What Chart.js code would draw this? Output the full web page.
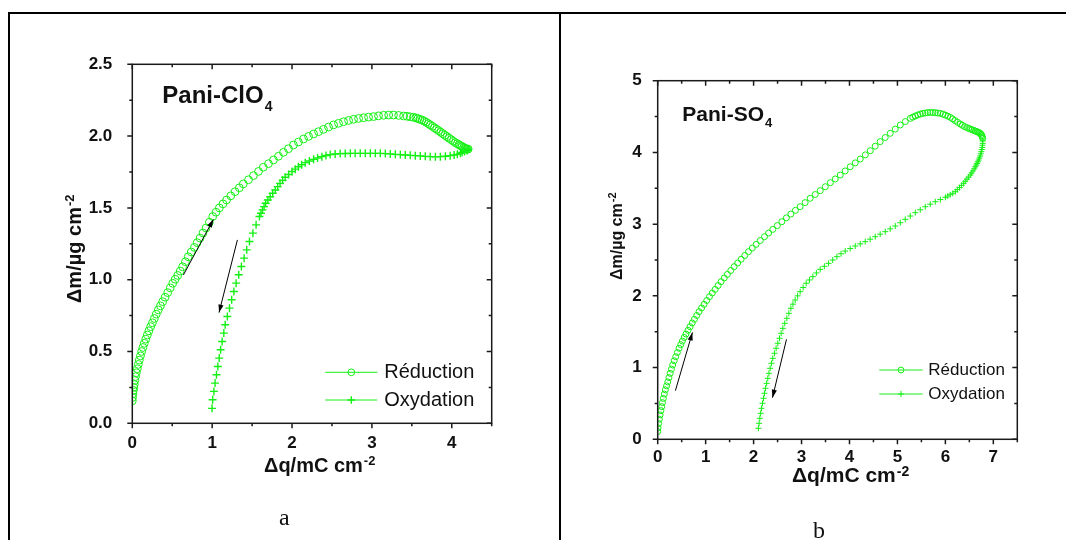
<!DOCTYPE html>
<html>
<head>
<meta charset="utf-8">
<script src="https://cdn.jsdelivr.net/npm/chart.js@4.4.1/dist/chart.umd.min.js"></script>
<style>
  html, body { margin: 0; padding: 0; background: #fff; overflow: hidden; }
  body { width: 1066px; height: 540px; position: relative; }
  .rule { position: absolute; background: #000; z-index: 2; }
  canvas { position: absolute; }
  .cap { position: absolute; font-family: "Liberation Serif", "Times New Roman", serif; font-size: 24px; line-height: 24px; color: #111; }
</style>
</head>
<body>
<div class="rule" style="left:8px;top:12px;width:1058px;height:2px"></div>
<div class="rule" style="left:8px;top:12px;width:2px;height:528px"></div>
<div class="rule" style="left:559px;top:12px;width:2px;height:528px"></div>
<canvas id="chart-a" width="549" height="526" style="left:10px;top:14px"></canvas>
<canvas id="chart-b" width="505" height="526" style="left:561px;top:14px"></canvas>
<div class="cap" style="left:279px;top:505px">a</div>
<div class="cap" style="left:813px;top:518px">b</div>
<script>
// panel a : Pani-ClO4
var xTicksA = [0, 1, 2, 3, 4];
var xLabelsA = ['0', '1', '2', '3', '4'];
var yTicksA = [0, 0.5, 1, 1.5, 2, 2.5];
var yLabelsA = ['0.0', '0.5', '1.0', '1.5', '2.0', '2.5'];
var reductionA = [
  [0,0.156],[0.003,0.18],[0.008,0.205],[0.013,0.23],[0.019,0.25],[0.025,0.27],[0.032,0.298],[0.04,0.325],
  [0.05,0.352],[0.063,0.38],[0.075,0.41],[0.088,0.44],[0.102,0.47],[0.117,0.5],[0.133,0.528],[0.15,0.557],
  [0.168,0.586],[0.188,0.615],[0.208,0.644],[0.23,0.673],[0.252,0.7],[0.276,0.73],[0.3,0.76],[0.326,0.79],
  [0.352,0.818],[0.38,0.847],[0.41,0.878],[0.443,0.91],[0.475,0.943],[0.506,0.975],[0.537,1.003],[0.568,1.03],
  [0.6,1.06],[0.63,1.09],[0.665,1.125],[0.7,1.16],[0.738,1.193],[0.777,1.225],[0.812,1.258],[0.848,1.29],
  [0.885,1.325],[0.923,1.36],[0.965,1.4],[1.007,1.44],[1.048,1.47],[1.09,1.5],[1.135,1.528],[1.18,1.555],
  [1.233,1.584],[1.287,1.613],[1.34,1.64],[1.39,1.667],[1.455,1.696],[1.517,1.725],[1.58,1.754],[1.64,1.783],
  [1.705,1.808],[1.768,1.834],[1.83,1.86],[1.893,1.887],[1.955,1.912],[2.018,1.938],[2.08,1.959],[2.144,1.98],
  [2.207,1.998],[2.27,2.015],[2.332,2.031],[2.394,2.047],[2.457,2.063],[2.52,2.078],[2.582,2.089],[2.645,2.1],
  [2.708,2.109],[2.77,2.117],[2.833,2.123],[2.896,2.128],[2.958,2.132],[3.02,2.136],[3.083,2.141],[3.147,2.145],
  [3.21,2.147],[3.27,2.147],[3.335,2.144],[3.397,2.14],[3.44,2.138],[3.48,2.134],[3.52,2.131],[3.55,2.127],
  [3.575,2.122],[3.6,2.117],[3.627,2.112],[3.655,2.104],[3.68,2.096],[3.705,2.087],[3.73,2.078],[3.757,2.068],
  [3.783,2.058],[3.81,2.048],[3.836,2.038],[3.862,2.027],[3.888,2.017],[3.915,2.006],[3.94,1.996],[3.967,1.985],
  [3.993,1.975],[4.02,1.964],[4.045,1.954],[4.07,1.947],[4.09,1.94],[4.11,1.933],[4.13,1.927],[4.15,1.921],
  [4.165,1.916],[4.18,1.911],[4.19,1.908],[4.205,1.91]
];
var oxydationA = [
  [4.205,1.908],[4.19,1.9],[4.16,1.893],[4.13,1.887],[4.108,1.88],[4.07,1.873],[4.03,1.868],[3.98,1.864],
  [3.92,1.86],[3.857,1.857],[3.795,1.856],[3.73,1.857],[3.668,1.859],[3.606,1.862],[3.543,1.864],[3.48,1.866],
  [3.418,1.868],[3.356,1.871],[3.293,1.873],[3.23,1.876],[3.168,1.878],[3.105,1.88],[3.043,1.88],[2.98,1.88],
  [2.917,1.88],[2.854,1.88],[2.79,1.88],[2.73,1.88],[2.666,1.879],[2.603,1.878],[2.54,1.875],[2.478,1.871],
  [2.425,1.865],[2.374,1.857],[2.32,1.848],[2.27,1.838],[2.217,1.827],[2.165,1.815],[2.12,1.8],[2.08,1.787],
  [2.04,1.77],[2.0,1.753],[1.957,1.733],[1.914,1.713],[1.882,1.692],[1.85,1.671],[1.82,1.648],[1.79,1.625],
  [1.758,1.602],[1.726,1.578],[1.697,1.555],[1.67,1.532],[1.65,1.509],[1.63,1.486],[1.611,1.463],[1.592,1.44],
  [1.55,1.382],[1.51,1.324],[1.467,1.266],[1.433,1.208],[1.4,1.15],[1.366,1.092],[1.333,1.034],[1.3,0.976],
  [1.272,0.918],[1.244,0.86],[1.217,0.802],[1.19,0.744],[1.163,0.686],[1.146,0.628],[1.125,0.57],[1.106,0.512],
  [1.088,0.454],[1.071,0.396],[1.054,0.338],[1.036,0.28],[1.022,0.222],[1.006,0.164],[0.999,0.104]
];
// arrows: [x from, y from, x to, y to]
var arrowsA = [[0.64, 1.033, 1.015, 1.42], [1.316, 1.277, 1.086, 0.771]];

// panel b : Pani-SO4
var xTicksB = [0, 1, 2, 3, 4, 5, 6, 7];
var xLabelsB = ['0', '1', '2', '3', '4', '5', '6', '7'];
var yTicksB = [0, 1, 2, 3, 4, 5];
var yLabelsB = ['0', '1', '2', '3', '4', '5'];
var reductionB = [
  [0,0.107],[0.008,0.16],[0.02,0.22],[0.034,0.28],[0.05,0.34],[0.067,0.4],[0.084,0.455],[0.1,0.512],
  [0.118,0.57],[0.138,0.63],[0.16,0.69],[0.185,0.745],[0.21,0.8],[0.235,0.86],[0.26,0.92],[0.286,0.978],
  [0.313,1.036],[0.344,1.094],[0.376,1.152],[0.41,1.21],[0.445,1.27],[0.48,1.32],[0.515,1.37],[0.552,1.42],
  [0.59,1.468],[0.632,1.52],[0.675,1.57],[0.72,1.622],[0.765,1.673],[0.814,1.727],[0.863,1.78],[0.915,1.831],
  [0.967,1.882],[1.023,1.936],[1.08,1.989],[1.138,2.04],[1.197,2.09],[1.26,2.144],[1.322,2.198],[1.388,2.25],
  [1.454,2.3],[1.524,2.354],[1.594,2.407],[1.667,2.458],[1.74,2.51],[1.816,2.563],[1.893,2.616],[1.973,2.667],
  [2.053,2.718],[2.14,2.772],[2.227,2.825],[2.313,2.876],[2.4,2.927],[2.495,2.98],[2.59,3.034],[2.683,3.088],
  [2.777,3.141],[2.873,3.192],[2.97,3.243],[3.075,3.3],[3.18,3.36],[3.285,3.413],[3.39,3.467],[3.495,3.522],
  [3.6,3.578],[3.703,3.63],[3.807,3.685],[3.91,3.742],[4.015,3.8],[4.12,3.854],[4.224,3.908],[4.33,3.966],
  [4.433,4.024],[4.537,4.087],[4.64,4.15],[4.745,4.208],[4.85,4.266],[4.955,4.325],[5.06,4.382],[5.165,4.43],
  [5.268,4.475],[5.32,4.492],[5.373,4.508],[5.425,4.522],[5.477,4.535],[5.53,4.544],[5.58,4.55],[5.63,4.555],
  [5.685,4.558],[5.74,4.556],[5.79,4.553],[5.84,4.55],[5.894,4.545],[5.95,4.533],[6.0,4.52],[6.05,4.505],
  [6.103,4.489],[6.15,4.468],[6.2,4.445],[6.255,4.42],[6.31,4.396],[6.355,4.378],[6.4,4.36],[6.445,4.347],
  [6.486,4.335],[6.525,4.325],[6.56,4.315],[6.595,4.306],[6.625,4.298],[6.655,4.29],[6.68,4.282],[6.705,4.274],
  [6.73,4.266],[6.748,4.25],[6.76,4.235],[6.77,4.215],[6.778,4.196]
];
var oxydationB = [
  [6.778,4.16],[6.778,4.126],[6.775,4.1],[6.77,4.07],[6.76,4.04],[6.75,4.01],[6.738,3.98],[6.725,3.95],
  [6.71,3.922],[6.694,3.894],[6.677,3.87],[6.66,3.846],[6.643,3.823],[6.625,3.8],[6.6,3.771],[6.575,3.742],
  [6.548,3.713],[6.52,3.685],[6.485,3.656],[6.45,3.627],[6.415,3.598],[6.38,3.569],[6.338,3.54],[6.295,3.51],
  [6.25,3.481],[6.207,3.453],[6.155,3.43],[6.1,3.41],[6.05,3.392],[6.0,3.374],[5.895,3.343],[5.79,3.313],
  [5.685,3.278],[5.581,3.243],[5.476,3.2],[5.372,3.16],[5.268,3.113],[5.163,3.067],[5.06,3.02],[4.955,2.974],
  [4.85,2.934],[4.746,2.895],[4.64,2.86],[4.537,2.825],[4.43,2.79],[4.328,2.756],[4.224,2.725],[4.12,2.695],
  [4.015,2.66],[3.911,2.625],[3.824,2.587],[3.737,2.546],[3.65,2.5],[3.563,2.453],[3.476,2.412],[3.389,2.37],
  [3.31,2.32],[3.236,2.268],[3.165,2.222],[3.097,2.175],[3.034,2.117],[2.971,2.059],[2.918,2.0],[2.867,1.942],
  [2.82,1.884],[2.777,1.826],[2.735,1.757],[2.693,1.687],[2.65,1.617],[2.61,1.547],[2.575,1.478],[2.54,1.408],
  [2.505,1.339],[2.47,1.269],[2.435,1.199],[2.4,1.129],[2.372,1.06],[2.345,0.99],[2.32,0.92],[2.296,0.85],
  [2.272,0.78],[2.248,0.711],[2.227,0.642],[2.206,0.572],[2.185,0.502],[2.164,0.432],[2.147,0.362],[2.13,0.293],
  [2.115,0.223],[2.1,0.153]
];
var arrowsB = [[0.369, 0.678, 0.724, 1.49], [2.686, 1.394, 2.394, 0.581]];

var GREEN = '#14f014';
var INK = '#1a1a1a';
var SANS = '"Liberation Sans", Arial, Helvetica, sans-serif';

// extra drawing for each panel, keyed by canvas id (offsets are pixels from the plot frame)
var decor = {
  'chart-a': {
    title: 'Pani-ClO', titleSub: '4', titleFont: 'bold 24px ' + SANS, subFont: 'bold 14px ' + SANS,
    titleAt: [30, 38.4], subDrop: 8,
    xTitleAt: [131.7, 48.4], yTitleAt: [-51, -120.3],
    axisFont: 'bold 20px ' + SANS, supFont: 'bold 13px ' + SANS, supRise: 7,
    xMinor: 0.5, yMinor: 0.25,
    legendLine: [-166.4, -114.4], legendText: -107.4, legendRows: [-51, -23.3],
    legendFont: '20px ' + SANS, legendR: [3.4, 3.8],
    arrows: arrowsA
  },
  'chart-b': {
    title: 'Pani-SO', titleSub: '4', titleFont: 'bold 21px ' + SANS, subFont: 'bold 13px ' + SANS,
    titleAt: [24.6, 40.3], subDrop: 6,
    xTitleAt: [134.3, 42.4], yTitleAt: [-35.7, -159.3],
    axisFont: 'bold 21px ' + SANS, supFont: 'bold 14px ' + SANS, supRise: 6,
    yAxisFont: 'bold 16px ' + SANS, ySupFont: 'bold 11px ' + SANS,
    xMinor: 0.5, yMinor: 0.5,
    legendLine: [-138, -94.6], legendText: -89, legendRows: [-69.3, -45.3],
    legendFont: '17px ' + SANS, legendR: [2.9, 3.1],
    arrows: arrowsB
  }
};

function supText(ctx, x, y, main, sup, font, supFont, rise) {
  ctx.font = font;
  ctx.fillText(main, x, y);
  var w = ctx.measureText(main).width;
  ctx.font = supFont;
  ctx.fillText(sup, x + w + 1, y - rise);
}

function marker(ctx, style, x, y, r) {
  ctx.beginPath();
  if (style === 'circle') {
    ctx.arc(x, y, r, 0, Math.PI * 2);
  } else {
    ctx.moveTo(x - r, y); ctx.lineTo(x + r, y);
    ctx.moveTo(x, y - r); ctx.lineTo(x, y + r);
  }
  ctx.stroke();
}

var panelDecor = {
  id: 'panelDecor',
  afterDatasetsDraw: function (chart) {
    var d = decor[chart.canvas.id];
    var ctx = chart.ctx, ca = chart.chartArea;
    var xs = chart.scales.x, ys = chart.scales.y;
    ctx.save();

    // frame + ticks (out on left/bottom, in on top/right)
    ctx.strokeStyle = INK;
    ctx.lineWidth = 1.5;
    ctx.strokeRect(ca.left, ca.top, ca.right - ca.left, ca.bottom - ca.top);
    ctx.beginPath();
    xs.ticks.forEach(function (t) {
      var p = xs.getPixelForValue(t.value);
      ctx.moveTo(p, ca.bottom); ctx.lineTo(p, ca.bottom + 5);
      ctx.moveTo(p, ca.top); ctx.lineTo(p, ca.top + 5);
    });
    ys.ticks.forEach(function (t) {
      var p = ys.getPixelForValue(t.value);
      ctx.moveTo(ca.left - 5, p); ctx.lineTo(ca.left, p);
      ctx.moveTo(ca.right - 5, p); ctx.lineTo(ca.right, p);
    });
    for (var v = xs.min + d.xMinor / 2; v < xs.max; v += d.xMinor) {
      var p = xs.getPixelForValue(v + d.xMinor / 2);
      ctx.moveTo(p, ca.bottom); ctx.lineTo(p, ca.bottom + 3);
      ctx.moveTo(p, ca.top); ctx.lineTo(p, ca.top + 3);
    }
    for (var w = ys.min + d.yMinor; w < ys.max; w += 2 * d.yMinor) {
      var q = ys.getPixelForValue(w);
      ctx.moveTo(ca.left - 3, q); ctx.lineTo(ca.left, q);
      ctx.moveTo(ca.right - 3, q); ctx.lineTo(ca.right, q);
    }
    ctx.stroke();

    // direction arrows
    ctx.strokeStyle = '#000';
    ctx.fillStyle = '#000';
    ctx.lineWidth = 1;
    d.arrows.forEach(function (a) {
      var x0 = xs.getPixelForValue(a[0]), y0 = ys.getPixelForValue(a[1]);
      var x1 = xs.getPixelForValue(a[2]), y1 = ys.getPixelForValue(a[3]);
      var ang = Math.atan2(y1 - y0, x1 - x0);
      ctx.beginPath();
      ctx.moveTo(x0, y0); ctx.lineTo(x1, y1);
      ctx.stroke();
      ctx.beginPath();
      ctx.moveTo(x1, y1);
      ctx.lineTo(x1 - 8 * Math.cos(ang) + 2.6 * Math.sin(ang), y1 - 8 * Math.sin(ang) - 2.6 * Math.cos(ang));
      ctx.lineTo(x1 - 8 * Math.cos(ang) - 2.6 * Math.sin(ang), y1 - 8 * Math.sin(ang) + 2.6 * Math.cos(ang));
      ctx.closePath();
      ctx.fill();
    });

    // panel label with subscript
    ctx.fillStyle = '#111';
    ctx.textAlign = 'left';
    ctx.textBaseline = 'alphabetic';
    ctx.font = d.titleFont;
    var tx = ca.left + d.titleAt[0], ty = ca.top + d.titleAt[1];
    ctx.fillText(d.title, tx, ty);
    var tw = ctx.measureText(d.title).width;
    ctx.font = d.subFont;
    ctx.fillText(d.titleSub, tx + tw + 1, ty + d.subDrop);

    // axis titles
    supText(ctx, ca.left + d.xTitleAt[0], ca.bottom + d.xTitleAt[1], '\u0394q/mC cm', '-2',
      d.axisFont, d.supFont, d.supRise);
    ctx.save();
    ctx.translate(ca.left + d.yTitleAt[0], ca.bottom + d.yTitleAt[1]);
    ctx.rotate(-Math.PI / 2);
    supText(ctx, 0, 0, '\u0394m/\u00b5g cm', '-2', d.yAxisFont || d.axisFont, d.ySupFont || d.supFont, d.supRise);
    ctx.restore();

    // legend: line - marker - line, then label
    chart.data.datasets.forEach(function (ds, i) {
      var ly = ca.bottom + d.legendRows[i];
      var l0 = ca.right + d.legendLine[0], l1 = ca.right + d.legendLine[1];
      ctx.strokeStyle = ds.borderColor;
      ctx.lineWidth = 1;
      ctx.beginPath();
      ctx.moveTo(l0, ly); ctx.lineTo(l1, ly);
      ctx.stroke();
      ctx.lineWidth = ds.pointBorderWidth;
      marker(ctx, ds.pointStyle, (l0 + l1) / 2, ly, d.legendR[i]);
      ctx.fillStyle = '#111';
      ctx.font = d.legendFont;
      ctx.textBaseline = 'middle';
      ctx.fillText(ds.label, ca.right + d.legendText, ly);
      ctx.textBaseline = 'alphabetic';
    });
    ctx.restore();
  }
};

function series(label, pts, style, r, bw) {
  return {
    label: label,
    data: pts.map(function (p) { return { x: p[0], y: p[1] }; }),
    showLine: false,
    borderColor: GREEN,
    borderWidth: 1,
    pointStyle: style,
    pointRadius: r,
    pointHoverRadius: r,
    pointBorderColor: GREEN,
    pointBackgroundColor: 'rgba(0,0,0,0)',
    pointBorderWidth: bw
  };
}

function makePanel(id, cfg) {
  return new Chart(document.getElementById(id), {
    type: 'scatter',
    data: { datasets: cfg.datasets },
    options: {
      responsive: false,
      animation: false,
      events: [],
      layout: { padding: cfg.padding },
      scales: {
        x: {
          type: 'linear', min: cfg.xMin, max: cfg.xMax,
          grid: { display: false }, border: { display: false },
          afterBuildTicks: function (s) { s.ticks = cfg.xTicks.map(function (v) { return { value: v }; }); },
          afterFit: function (s) { s.height = 40; },
          ticks: {
            autoSkip: false, maxRotation: 0, padding: cfg.xPad, color: '#111',
            font: { family: SANS, size: 17, weight: 'bold' },
            callback: function (v, i) { return cfg.xLabels[i]; }
          }
        },
        y: {
          type: 'linear', min: cfg.yMin, max: cfg.yMax,
          grid: { display: false }, border: { display: false },
          afterBuildTicks: function (s) { s.ticks = cfg.yTicks.map(function (v) { return { value: v }; }); },
          afterFit: function (s) { s.width = 50; },
          ticks: {
            autoSkip: false, padding: cfg.yPad, color: '#111',
            font: { family: SANS, size: 17, weight: 'bold' },
            callback: function (v, i) { return cfg.yLabels[i]; }
          }
        }
      },
      plugins: { legend: { display: false }, tooltip: { enabled: false } }
    },
    plugins: [panelDecor]
  });
}

makePanel('chart-a', {
  datasets: [
    series('R\u00e9duction', reductionA, 'circle', 3.9, 1),
    series('Oxydation', oxydationA, 'cross', 4, 1.4)
  ],
  padding: { left: 72.3, top: 50.3, right: 67.3, bottom: 76.7 },
  xMin: 0, xMax: 4.5, yMin: 0, yMax: 2.5,
  xTicks: xTicksA, xLabels: xLabelsA, yTicks: yTicksA, yLabels: yLabelsA,
  xPad: 2, yPad: 12
});

makePanel('chart-b', {
  datasets: [
    series('R\u00e9duction', reductionB, 'circle', 3, 1),
    series('Oxydation', oxydationB, 'cross', 3, 1)
  ],
  padding: { left: 46.7, top: 66.7, right: 48.7, bottom: 60.7 },
  xMin: 0, xMax: 7.5, yMin: 0, yMax: 5,
  xTicks: xTicksB, xLabels: xLabelsB, yTicks: yTicksB, yLabels: yLabelsB,
  xPad: 0, yPad: 8
});
</script>
</body>
</html>
